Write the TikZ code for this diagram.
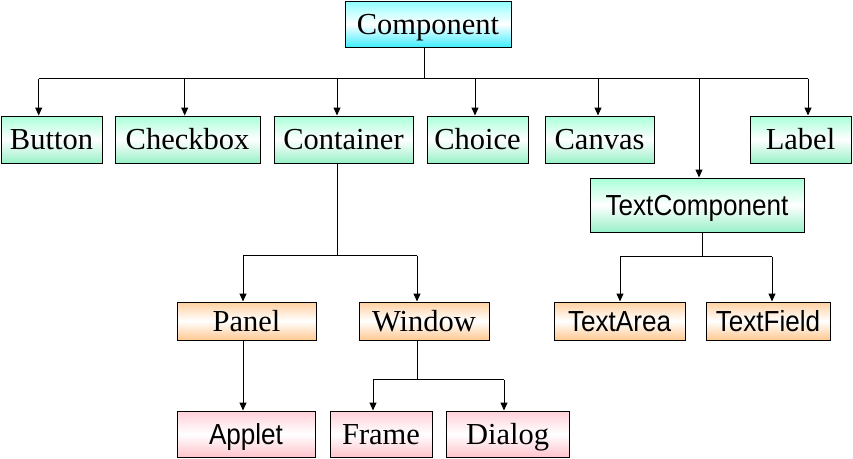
\documentclass[tikz,border=0pt]{standalone}
\usepackage{fontspec}
\setmainfont{Liberation Serif}
\newfontfamily\arialf[FakeStretch=0.9]{Liberation Sans}
\usetikzlibrary{arrows.meta,calc}
\definecolor{cyT}{HTML}{90FFFF}
\definecolor{cyB}{HTML}{40EEFF}
\definecolor{grT}{HTML}{A8FFD8}
\definecolor{grB}{HTML}{98F0C8}
\definecolor{orT}{HTML}{FFD0A0}
\definecolor{orB}{HTML}{FFC890}
\definecolor{pkT}{HTML}{FFD0D8}
\definecolor{pkB}{HTML}{FFC4CC}
\begin{document}
\begin{tikzpicture}[x=1pt,y=-1pt,
  box/.style={draw=black,line width=1pt,inner sep=0pt,
    font=\fontsize{30.5}{30.5}\selectfont,text height=20pt,text depth=0pt},
  sbox/.style={box,font=\arialf\fontsize{29}{29}\selectfont,text height=21pt,text depth=0pt},
  cyanfill/.style={top color=cyT,bottom color=cyB,middle color=white},
  greenfill/.style={top color=grT,bottom color=grB,middle color=white},
  orangefill/.style={top color=orT,bottom color=orB,middle color=white},
  pinkfill/.style={top color=pkT,bottom color=pkB,middle color=white},
  conn/.style={line width=1pt},
  arr/.style={conn,-{Triangle[length=8pt,width=7pt]}}]
\useasboundingbox (0,0) rectangle (853,458);
% nodes
\node[box,cyanfill,minimum width=166pt,minimum height=46pt] (component) at (428,24) {Component};
\node[box,greenfill,minimum width=101pt,minimum height=47pt] (button) at (51.5,139.5) {Button};
\node[box,greenfill,minimum width=145pt,minimum height=47pt] (checkbox) at (187.5,139.5) {Checkbox};
\node[box,greenfill,minimum width=139pt,minimum height=47pt] (container) at (343.5,139.5) {Container};
\node[box,greenfill,minimum width=101pt,minimum height=47pt] (choice) at (477.5,139.5) {Choice};
\node[box,greenfill,minimum width=109pt,minimum height=47pt] (canvas) at (599.5,139.5) {Canvas};
\node[box,greenfill,minimum width=101pt,minimum height=47pt] (label) at (800.5,139.5) {Label};
\node[sbox,greenfill,minimum width=214pt,minimum height=54pt] (textcomp) at (697,205) {TextComponent};
\node[box,orangefill,minimum width=139pt,minimum height=38pt] (panel) at (246.5,321) {Panel};
\node[box,orangefill,minimum width=130pt,minimum height=38pt] (window) at (424,321) {Window};
\node[sbox,orangefill,minimum width=131pt,minimum height=38pt] (textarea) at (619.5,321) {TextArea};
\node[sbox,orangefill,minimum width=124pt,minimum height=38pt] (textfield) at (768,321) {TextField};
\node[sbox,pinkfill,minimum width=138pt,minimum height=46pt] (applet) at (246,434) {Applet};
\node[box,pinkfill,minimum width=102pt,minimum height=46pt] (frame) at (381,434) {Frame};
\node[box,pinkfill,minimum width=123pt,minimum height=46pt] (dialog) at (507.5,434) {Dialog};
% connection points
\coordinate (b0) at ($(component.south)+(-3.3,31)$);
\coordinate (tbutton) at ($(button.north)+(-12.8,0)$);
\coordinate (tcheckbox) at ($(checkbox.north)+(-2.8,0)$);
\coordinate (tcontainer) at ($(container.north)+(-6.5,0)$);
\coordinate (tchoice) at ($(choice.north)+(-2.5,0)$);
\coordinate (tcanvas) at ($(canvas.north)+(-1.5,0)$);
\coordinate (ttextcomp) at ($(textcomp.north)+(2,0)$);
\coordinate (tlabel) at ($(label.north)+(7.5,0)$);
\coordinate (b1) at ($(container.south)+(-6.5,92)$);
\coordinate (tpanel) at ($(panel.north)+(-3.5,0)$);
\coordinate (twindow) at ($(window.north)+(-7,0)$);
\coordinate (b2) at ($(window.south)+(-7,39)$);
\coordinate (tframe) at ($(frame.north)+(-8,0)$);
\coordinate (tdialog) at ($(dialog.north)+(-3.5,0)$);
\coordinate (b3) at ($(textcomp.south)+(5,24)$);
\coordinate (ttextarea) at ($(textarea.north)+(0.5,0)$);
\coordinate (ttextfield) at ($(textfield.north)+(4,0)$);
% Component tree
\draw[conn] (component.south -| b0) -- (b0);
\draw[conn] (b0 -| tbutton) -- (b0 -| tlabel);
\foreach \t in {tbutton,tcheckbox,tcontainer,tchoice,tcanvas,ttextcomp,tlabel}
  \draw[arr] (b0 -| \t) -- (\t);
% Container
\draw[conn] (container.south -| b1) -- (b1);
\draw[conn] (b1 -| tpanel) -- (b1 -| twindow);
\draw[arr] (b1 -| tpanel) -- (tpanel);
\draw[arr] (b1 -| twindow) -- (twindow);
% Panel -> Applet
\draw[arr] (panel.south -| tpanel) -- (applet.north -| tpanel);
% Window
\draw[conn] (window.south -| b2) -- (b2);
\draw[conn] (b2 -| tframe) -- (b2 -| tdialog);
\draw[arr] (b2 -| tframe) -- (tframe);
\draw[arr] (b2 -| tdialog) -- (tdialog);
% TextComponent
\draw[conn] (textcomp.south -| b3) -- (b3);
\draw[conn] (b3 -| ttextarea) -- (b3 -| ttextfield);
\draw[arr] (b3 -| ttextarea) -- (ttextarea);
\draw[arr] (b3 -| ttextfield) -- (ttextfield);
\end{tikzpicture}
\end{document}
